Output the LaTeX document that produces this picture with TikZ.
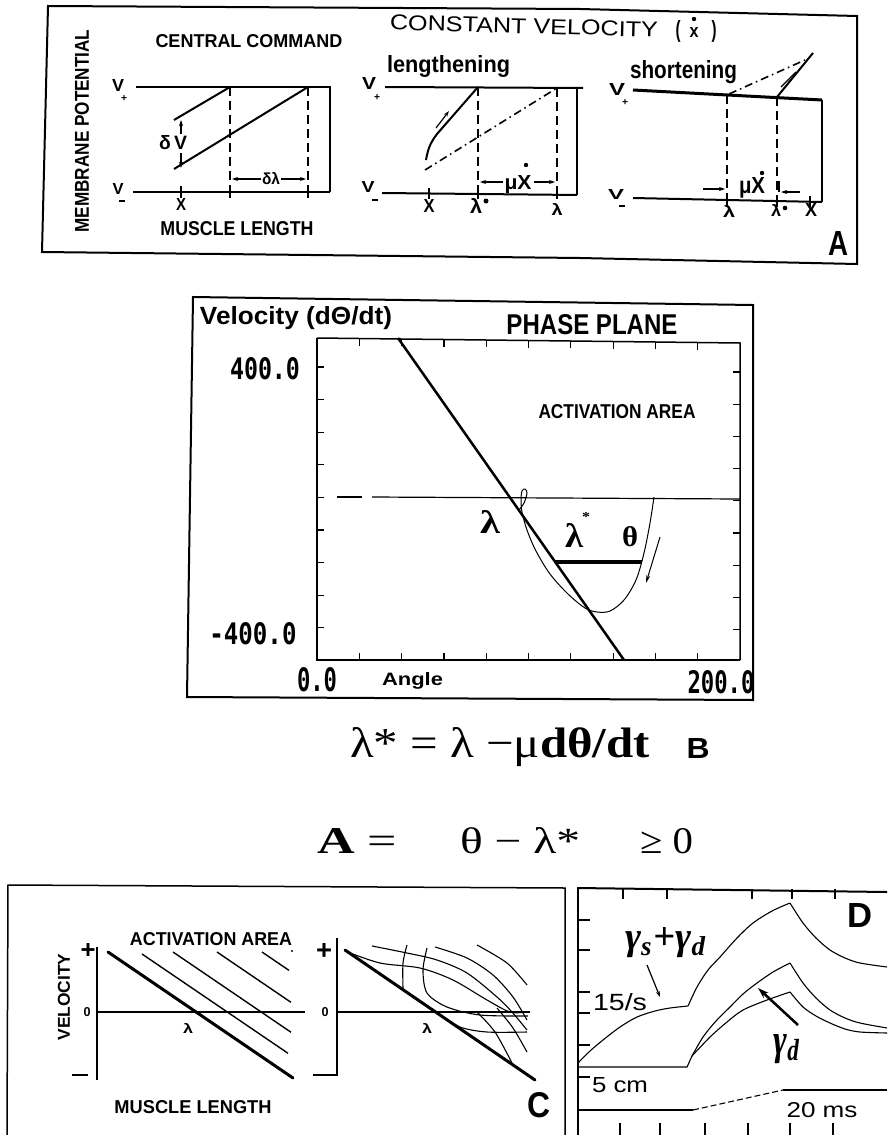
\documentclass[tikz,border=0pt]{standalone}
\usepackage{fontspec}
\usepackage{graphicx}
\setmainfont{Liberation Serif}
\setsansfont{Liberation Sans}
\newfontfamily\dotfont{DejaVu Sans Mono}
\usetikzlibrary{arrows.meta}
\newcommand{\fb}[3]{\resizebox{#1pt}{#2pt}{#3}}
\newcommand{\sfb}{\sffamily\bfseries}
\newcommand{\dtb}{\dotfont\bfseries}
\begin{document}
\begin{tikzpicture}[x=1pt,y=-1pt,
  every node/.style={inner sep=0pt, outer sep=0pt},
  thk/.style={line width=2pt},
  thn/.style={line width=1.2pt},
  dsh/.style={line width=2pt, dash pattern=on 9pt off 5pt},
  dd/.style={line width=1.6pt, dash pattern=on 8pt off 4pt on 1.5pt off 4pt},
  arr/.style={line width=1.2pt, -{Stealth[length=6pt,width=4pt]}},
  tick/.style={line width=1.6pt}]
\useasboundingbox (0,0) rectangle (887,1135);
\fill[white] (0,0) rectangle (887,1135);

% ================= PANEL A =================
\draw[thk] (48,6) -- (580,9) -- (857,16) -- (857,264) -- (580,258) -- (42,252) -- cycle;
\node (tA1) at (249,41) {\fb{187}{13}{\sfb CENTRAL COMMAND}};
\node[rotate=90] (tA2) at (82,131) {\fb{203}{14}{\sfb MEMBRANE POTENTIAL}};
\node (tA3) at (237,229) {\fb{153}{14}{\sfb MUSCLE LENGTH}};
\node[rotate=-1.6] (tA4) at (524,26) {\fb{268}{15}{\sffamily\mdseries CONSTANT VELOCITY}};
\node (tA4a) at (678,31) {\fb{5}{17}{\sfb (}};
\node (tA4b) at (694,33) {\fb{9}{10}{\sfb x}};
\fill (694,19) circle (2.2);
\node (tA4c) at (714,31) {\fb{5}{17}{\sfb )}};

% left sub-plot
\draw[thk] (136,87) -- (330,87) -- (330,192);
\draw[thk] (133,192) -- (330,192);
\draw[dsh] (230,87) -- (230,192);
\draw[dsh] (308,87) -- (308,192);
\draw[thk] (174,120) -- (230,87);
\draw[thk] (174,169) -- (308,87);
\foreach \x in {181,230,308} \draw[tick] (\x,186) -- (\x,198);
\draw[arr] (181,134) -- (181,120);
\draw[arr] (181,153) -- (181,168);
\node (dV) at (173,143) {\fb{28}{14}{\sfb δ\,V}};
\node (dl) at (271,179) {\fb{18}{12}{\sfb δλ}};
\draw[arr] (261,179) -- (232,179);
\draw[arr] (281,179) -- (306,179);
\node (Vp1) at (118,85) {\fb{12}{12}{\sfb V}};
\node (Vp1s) at (124,98) {\fb{6}{6}{\sfb +}};
\node (Vm1) at (118,189) {\fb{11}{11}{\sfb V}};
\draw[line width=1.5pt] (119,201) -- (125,201);
\node (x1) at (181,204) {\fb{10}{12}{\sfb X}};

% middle sub-plot
\node[anchor=base west] (tlen) at (387,72) {\fb{123}{17}{\sfb lengthening}};
\draw[thk] (385,87) -- (583,88);
\draw[thk] (577,88) -- (577,195);
\draw[thk] (382,193) -- (577,195);
\draw[dsh] (478,87) -- (478,193);
\draw[dsh] (557,88) -- (557,194);
\draw[thk] (426,160) .. controls (428,148) and (431,142) .. (437,134) -- (478,87);
\draw[arr] (436,128) -- (449,111);
\draw[dd] (425,170) -- (557,88);
\foreach \x in {429,478,557} \draw[tick] (\x,188) -- (\x,199);
\node (mx1) at (518,185) {\fb{27}{14}{\sfb μX}};
\fill (526,165) circle (2.2);
\draw[arr] (503,182) -- (480,182);
\draw[arr] (534,182) -- (555,182);
\node (x2) at (429,206) {\fb{11}{13}{\sfb X}};
\node (ls2) at (476,206) {\fb{12}{15}{\sfb λ}};
\fill (486,201) circle (2.5);
\node (l2) at (557,209) {\fb{11}{12}{\sfb λ}};
\node (Vp2) at (369,83) {\fb{14}{12}{\sfb V}};
\node (Vp2s) at (377,97) {\fb{6}{6}{\sfb +}};
\node (Vm2) at (368,187) {\fb{13}{11}{\sfb V}};
\draw[line width=1.5pt] (372,200) -- (378,200);

% right sub-plot
\node[anchor=base west] (tsho) at (630,78) {\fb{107}{18}{\sfb shortening}};
\draw[line width=3pt] (633,90) -- (822,100);
\draw[thn] (822,100) -- (822,202);
\draw[thk] (633,198) -- (822,202);
\draw[dsh] (727,95) -- (727,200);
\draw[dsh] (777,97) -- (777,201);
\draw[dd] (729,94) -- (805,60);
\draw[thk] (777,97) -- (813,53);
\draw[thn] (781,87) -- (796,72);
\foreach \x in {727,777,810} \draw[tick] (\x,196) -- (\x,207);
\node (mx3) at (752,188) {\fb{26}{16}{\sfb μX}};
\fill (762,173) circle (2.2);
\draw[arr] (703,189) -- (725,189);
\draw[thk] (779,181) -- (779,192);
\draw[arr] (800,192) -- (781,192);
\node (l3) at (729,211) {\fb{12}{12}{\sfb λ}};
\node (ls3) at (776,210) {\fb{10}{12}{\sfb λ}};
\fill (785,208) circle (2.3);
\node (x3) at (811,210) {\fb{12}{13}{\sfb X}};
\node (Vp3) at (617,89) {\fb{16}{12}{\sfb V}};
\node (Vp3s) at (625,102) {\fb{6}{6}{\sfb +}};
\node (Vm3) at (616,194) {\fb{16}{10}{\sfb V}};
\draw[line width=1.5pt] (619,206) -- (625,206);
\node (labA) at (838,243) {\fb{20}{24}{\sfb A}};

% ================= PANEL B =================
\draw[thk] (193,297) -- (753,305) -- (753,700) -- (187,697) -- cycle;
\draw[line width=1.5pt] (317,338) -- (740,343) -- (740,660);
\draw[line width=2.5pt] (317,338) -- (317,660) -- (740,660);
\foreach \k in {1,...,9} {
  \pgfmathsetmacro\xx{317+42.3*\k}
  \pgfmathsetmacro\yy{338+5*42.3*\k/423}
  \draw[thn] (\xx,\yy) -- (\xx,\yy+7);
  \draw[thn] (\xx,660) -- (\xx,653);
}
\foreach \k in {0,...,8} {
  \pgfmathsetmacro\yy{367+32.6*\k}
  \draw[thn] (317,\yy) -- (324,\yy);
  \pgfmathsetmacro\yr{372+32.2*\k}
  \draw[thn] (740,\yr) -- (733,\yr);
}
\draw[thn] (337,497) -- (362,497);
\draw[thn] (372,497) -- (740,499);
\draw[line width=2.5pt] (398,338) -- (624,660);
\draw[line width=3.5pt] (555,562) -- (642,562);
\draw[line width=1pt] plot[smooth, tension=0.55] coordinates {(654,497) (650,523) (644,553) (636,580) (624,600) (610,611) (597,612) (585,608) (568,594) (550,574) (536,551) (527,530) (522,512) (521,500) (522,491) (525,489) (527,493) (524,503) (519,510)};
\draw[line width=1pt, -{Stealth[length=8pt,width=4pt]}] (660,537) -- (646,583);
\node (tB1) at (296,318) {\fb{192}{18}{\sfb Velocity (dΘ/dt)}};
\node (tB2) at (592,325) {\fb{171}{20}{\sfb PHASE PLANE}};
\node (tB3) at (617,412) {\fb{157}{14}{\sfb ACTIVATION AREA}};
\node (nB1) at (265,369) {\fb{70}{22}{\dtb 400.0}};
\node (nB2) at (253,634) {\fb{87}{22}{\dtb -400.0}};
\node (nB3) at (317,680) {\fb{40}{24}{\dtb 0.0}};
\node[anchor=base west] (tB4) at (382,685) {\fb{61}{13}{\sfb Angle}};
\node (nB4) at (721,682) {\fb{67}{23}{\dtb 200.0}};
\node (lB1) at (490,522) {\fb{20}{23}{\bfseries λ}};
\node (lB2) at (574,535) {\fb{18}{24}{\bfseries λ}};
\node (lB2s) at (586,517) {\fb{8}{9}{\bfseries *}};
\node (thB) at (630,537) {\fb{16}{20}{\bfseries θ}};

% equations
\node[anchor=base west] (eq1) at (350,757) {\fb{300}{30}{λ* = λ −μ\textbf{dθ/dt}}};
\node (labB) at (698,748) {\fb{23}{20}{\sfb B}};
\node[anchor=base west] (eq2a) at (317,853) {\fb{80}{25}{\textbf{A} =}};
\node[anchor=base west] (eq2b) at (460,853) {\fb{120}{26}{θ − λ*}};
\node[anchor=base west] (eq2c) at (640,853) {\fb{53}{25}{≥ 0}};

% ================= PANEL C =================
\draw[line width=1.5pt] (7,1135) -- (8,885) -- (565,888) -- (565,1135);
\node[rotate=90] (tC1) at (64,997) {\fb{87}{12}{\sfb VELOCITY}};
\node (pC1) at (88,951) {\fb{15}{15}{\sfb +}};
\node (zC1) at (87,1012) {\fb{7}{9}{\sfb 0}};
\draw[line width=2pt] (72,1075) -- (88,1075);
\draw[line width=2.2pt] (97,947) -- (97,1080);
\draw[thn] (97,1012) -- (305,1012);
\draw[line width=3pt, line cap=round] (108,952) -- (293,1078);
\foreach \a/\b/\e in {142/954/288, 173/952/291, 217/952/291, 262/952/289} {
  \draw[line width=1.4pt] (\a,\b) -- (\e,{\b+0.68*(\e-\a)});
}
\fill (292,951) circle (1.2);
\node (tC2) at (211,939) {\fb{162}{13}{\sfb ACTIVATION AREA}};
\node (lC1) at (188,1028) {\fb{10}{10}{\sfb λ}};
\node (tC3) at (193,1107) {\fb{157}{13}{\sfb MUSCLE LENGTH}};
% right part of C
\node (pC2) at (324,951) {\fb{16}{16}{\sfb +}};
\node (zC2) at (325,1012) {\fb{7}{9}{\sfb 0}};
\draw[line width=2pt] (337,938) -- (337,1075) -- (313,1075);
\draw[line width=2pt] (337,1012) -- (530,1012);
\draw[line width=3pt, line cap=round] (345,950) -- (535,1080);
\begin{scope}[line width=1.1pt]
\draw plot[smooth] coordinates {(345,951) (380,963) (420,968) (453,980) (487,1000) (510,1012) (528,1012)};
\draw plot[smooth] coordinates {(372,946) (407,953) (437,960) (467,973) (497,997) (512,1012) (527,1030)};
\draw plot[smooth] coordinates {(435,947) (467,958) (493,975) (513,997) (527,1020)};
\draw plot[smooth] coordinates {(477,945) (507,963) (527,985)};
\draw plot[smooth] coordinates {(407,945) (403,963) (403,988)};
\draw plot[smooth] coordinates {(427,948) (423,970) (427,993) (447,1007) (480,1015) (528,1016)};
\draw plot[smooth] coordinates {(437,1013) (460,1027) (487,1032) (527,1032)};
\draw plot[smooth] coordinates {(477,1012) (495,1032) (512,1063)};
\draw plot[smooth] coordinates {(497,1008) (513,1028) (527,1052)};
\end{scope}
\node (lC2) at (427,1028) {\fb{10}{10}{\sfb λ}};
\node (labC) at (539,1105) {\fb{23}{25}{\sfb C}};

% ================= PANEL D =================
\draw[line width=2.5pt] (578,1135) -- (578,888);
\draw[line width=2pt] (577,888) -- (887,892);
\foreach \x in {623,667,752,792,835} \draw[tick] (\x,889) -- (\x,899);
\foreach \y in {920,950,992,1013,1045,1077,1110} \draw[tick] (578,\y) -- (590,\y);
\foreach \x in {620,660,705,748,790,833} \draw[tick] (\x,1135) -- (\x,1123);
\begin{scope}[line width=1.1pt]
\draw plot[smooth] coordinates {(578,1063) (590,1051) (603,1040) (620,1027) (637,1017) (655,1011) (670,1008) (688,1006)};
\draw plot[smooth] coordinates {(688,1006) (697,987) (708,970) (720,957) (737,938) (753,923) (772,911) (790,903)};
\draw plot[smooth] coordinates {(790,903) (803,923) (816,938) (830,950) (845,958) (860,963) (887,967)};
\draw (578,1067) -- (687,1067) -- (692,1056);
\draw plot[smooth] coordinates {(692,1056) (703,1037) (716,1021) (730,1007) (743,994) (757,983) (773,972) (790,963)};
\draw plot[smooth] coordinates {(790,963) (803,983) (816,998) (830,1010) (845,1018) (860,1023) (887,1028)};
\draw plot[smooth] coordinates {(692,1056) (710,1037) (727,1022) (743,1010) (767,1000) (790,992)};
\draw plot[smooth] coordinates {(790,992) (803,1007) (816,1016) (830,1023) (845,1029) (860,1032) (887,1033)};
\draw (578,1110) -- (693,1110);
\draw[dash pattern=on 6pt off 3pt] (693,1110) -- (783,1090);
\draw (783,1090) -- (887,1090);
\end{scope}
\draw[arr] (647,965) -- (660,997);
\draw[line width=2.5pt, -{Stealth[length=11pt,width=7pt]}] (798,1025) -- (758,988);
\node (gsd) at (666,943) {\fb{82}{22}{\itshape\bfseries γ\textsubscript{s}+γ\textsubscript{d}}};
\node (gd) at (787,1049) {\fb{27}{20}{\itshape\bfseries γ\textsubscript{d}}};
\node (t15) at (620,1002) {\fb{54}{17}{\sffamily 15/s}};
\node (t5cm) at (620,1085) {\fb{56}{15}{\sffamily 5 cm}};
\node (t20) at (822,1110) {\fb{71}{15}{\sffamily 20 ms}};
\node (labD) at (860,915) {\fb{25}{24}{\sfb D}};
\end{tikzpicture}
\end{document}
